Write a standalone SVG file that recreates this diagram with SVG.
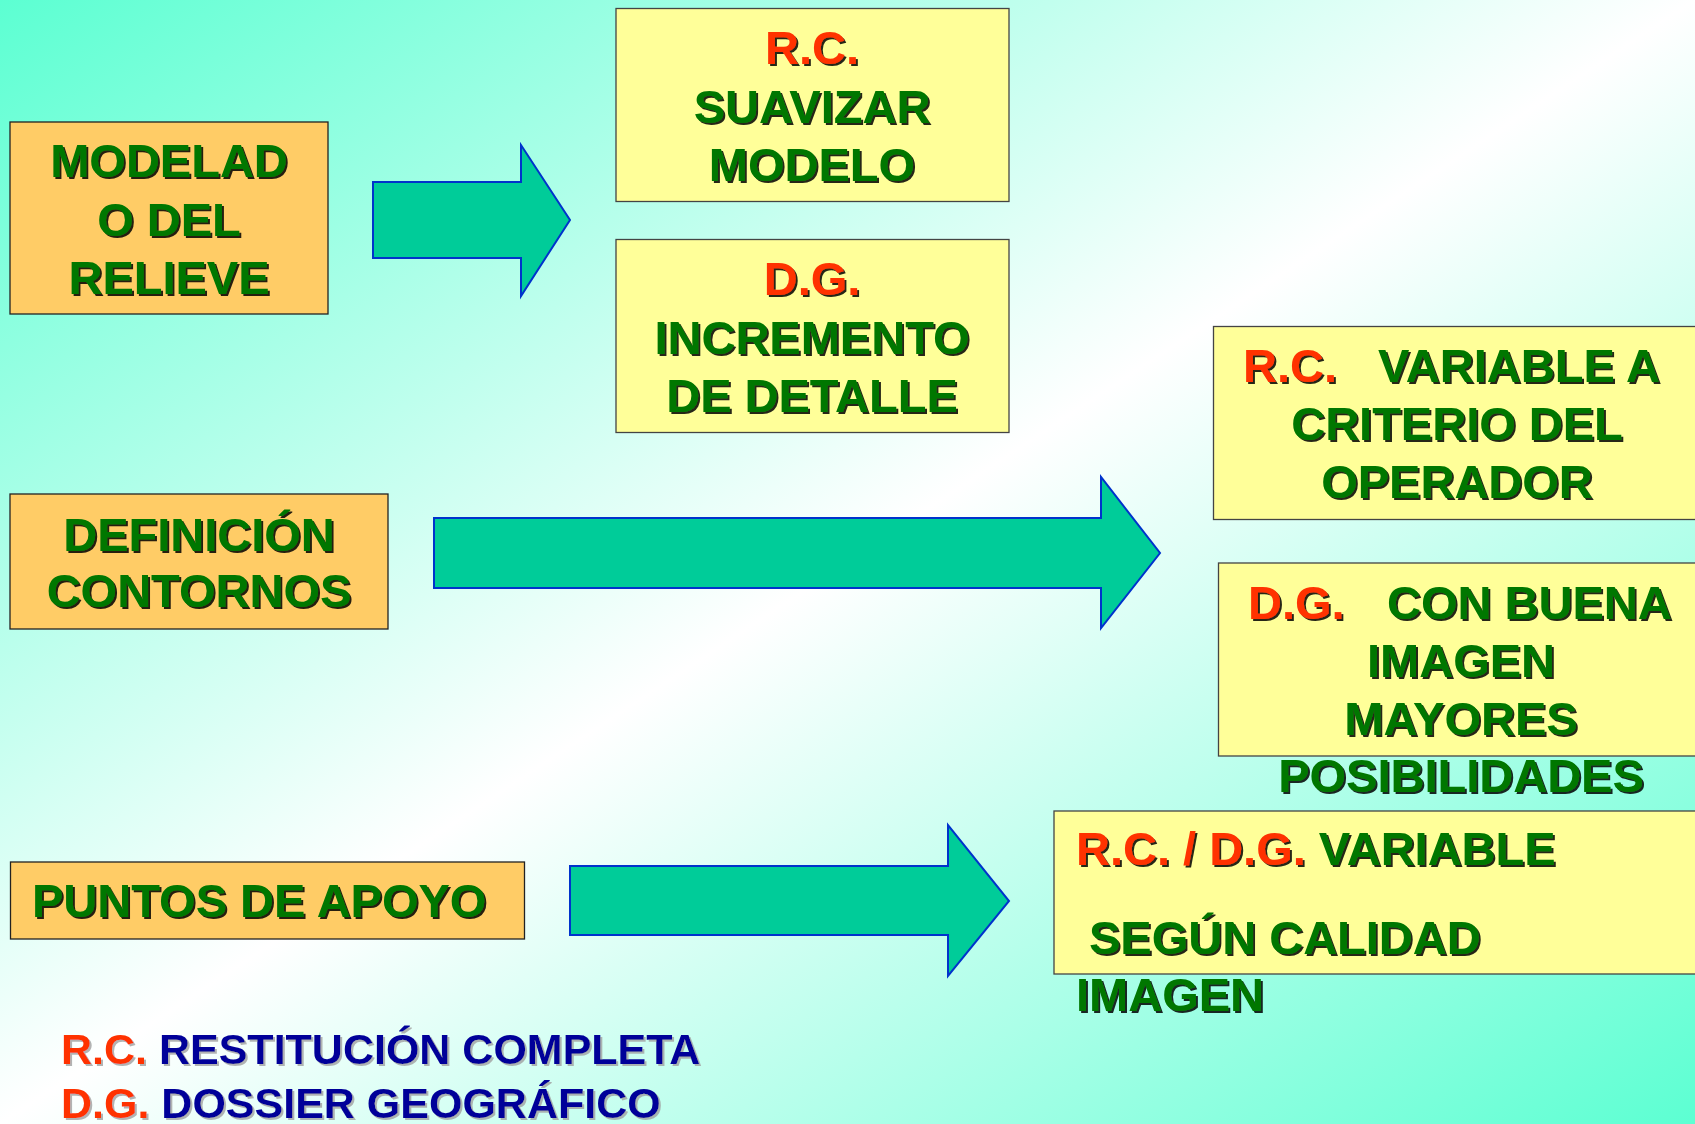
<svg xmlns="http://www.w3.org/2000/svg" width="1695" height="1124" viewBox="0 0 1695 1124">
  <defs>
    <linearGradient id="bg" x1="0" y1="0" x2="1" y2="1">
      <stop offset="0" stop-color="#5CFFD2"/>
      <stop offset="0.5" stop-color="#FFFFFF"/>
      <stop offset="1" stop-color="#5CFFD2"/>
    </linearGradient>
    <filter id="sh" x="-5%" y="-20%" width="110%" height="140%">
      <feFlood flood-color="#000000" flood-opacity="0.85"/>
      <feComposite in2="SourceAlpha" operator="in"/>
      <feOffset dx="2" dy="2" result="s"/>
      <feMerge><feMergeNode in="s"/><feMergeNode in="SourceGraphic"/></feMerge>
    </filter>
    <filter id="shl" x="-5%" y="-20%" width="110%" height="140%">
      <feFlood flood-color="#A0A0A0" flood-opacity="0.8"/>
      <feComposite in2="SourceAlpha" operator="in"/>
      <feOffset dx="2" dy="2" result="s"/>
      <feMerge><feMergeNode in="s"/><feMergeNode in="SourceGraphic"/></feMerge>
    </filter>
  </defs>
  <style>
    .t { font-family: "Liberation Sans", Arial, sans-serif; font-weight: bold; font-size: 47px; fill: #007700; filter: url(#sh); }
    .c { text-anchor: middle; }
    .r { fill: #FF3300; }
    .lg { font-family: "Liberation Sans", Arial, sans-serif; font-weight: bold; font-size: 43px; fill: #000099; filter: url(#shl); }
    .org { fill: #FFCC66; stroke: #222222; stroke-width: 1.3; }
    .yel { fill: #FFFF99; stroke: #444444; stroke-width: 1.3; }
    .arr { fill: #00CC99; stroke: #0033CC; stroke-width: 2; stroke-linejoin: miter; }
  </style>
  <rect x="0" y="0" width="1695" height="1124" fill="url(#bg)"/>

  <g id="connectors">
    <polygon class="arr" points="373,182 521,182 521,145 570,220 521,296 521,258 373,258"/>
    <polygon class="arr" points="434,518 1101,518 1101,477 1160,553 1101,628 1101,588 434,588"/>
    <polygon class="arr" points="570,866 948,866 948,825 1009,901 948,976 948,935 570,935"/>
  </g>

  <g id="modelado">
    <rect class="org" x="10" y="122" width="318" height="192"/>
    <text class="t c" x="169" y="177">MODELAD</text>
    <text class="t c" x="169" y="236">O DEL</text>
    <text class="t c" x="169" y="294">RELIEVE</text>
  </g>

  <g id="definicion">
    <rect class="org" x="10" y="494" width="378" height="135"/>
    <text class="t c" x="199" y="551">DEFINICIÓN</text>
    <text class="t c" x="199" y="607">CONTORNOS</text>
  </g>

  <g id="puntos">
    <rect class="org" x="10.5" y="862" width="514" height="77"/>
    <text class="t" x="32" y="917">PUNTOS DE APOYO</text>
  </g>

  <g id="rc-suavizar">
    <rect class="yel" x="616" y="8.5" width="393" height="193"/>
    <text class="t c r" x="812" y="64">R.C.</text>
    <text class="t c" x="812" y="123">SUAVIZAR</text>
    <text class="t c" x="812" y="181">MODELO</text>
  </g>

  <g id="dg-incremento">
    <rect class="yel" x="616" y="239.5" width="393" height="193"/>
    <text class="t c r" x="812" y="295">D.G.</text>
    <text class="t c" x="812" y="354">INCREMENTO</text>
    <text class="t c" x="812" y="412">DE DETALLE</text>
  </g>

  <g id="rc-variable">
    <rect class="yel" x="1213.5" y="326.5" width="490" height="193"/>
    <text class="t" y="382"><tspan class="r" x="1243">R.C.</tspan><tspan x="1378">VARIABLE A</tspan></text>
    <text class="t c" x="1457" y="440">CRITERIO DEL</text>
    <text class="t c" x="1457" y="498">OPERADOR</text>
  </g>

  <g id="dg-buena">
    <rect class="yel" x="1218.5" y="563" width="490" height="193"/>
    <text class="t" y="619"><tspan class="r" x="1248">D.G.</tspan><tspan x="1387">CON BUENA</tspan></text>
    <text class="t c" x="1461" y="677">IMAGEN</text>
    <text class="t c" x="1461" y="735">MAYORES</text>
    <text class="t c" x="1461" y="792">POSIBILIDADES</text>
  </g>

  <g id="rc-dg-variable">
    <rect class="yel" x="1054" y="811" width="650" height="163"/>
    <text class="t" x="1076" y="865"><tspan class="r">R.C. / D.G.</tspan> VARIABLE</text>
    <text class="t" x="1089" y="954">SEGÚN CALIDAD</text>
    <text class="t" x="1076" y="1011">IMAGEN</text>
  </g>

  <g id="legend">
    <text class="lg" x="61" y="1064"><tspan fill="#FF3300">R.C.</tspan> RESTITUCIÓN COMPLETA</text>
    <text class="lg" x="61" y="1118"><tspan fill="#FF3300">D.G.</tspan> DOSSIER GEOGRÁFICO</text>
  </g>
</svg>
